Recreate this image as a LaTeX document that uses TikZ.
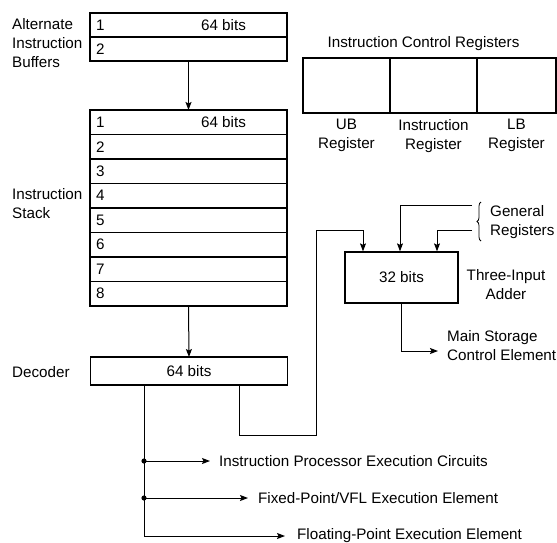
\documentclass[tikz,border=0pt]{standalone}
\usepackage{fontspec}
\setmainfont{Liberation Sans}
\usetikzlibrary{positioning, arrows.meta, decorations.pathreplacing}

\begin{document}
\begin{tikzpicture}[
            x=1pt, y=-1pt, >={Stealth[length=8pt, width=6pt, inset=1.5pt]},
            font=\fontsize{15.2}{19}\selectfont,
            row/.style={rectangle, draw, line width=1.3pt, minimum width=197pt, minimum height=24.5pt, outer sep=0pt, inner sep=0pt},
            reg/.style={rectangle, draw, line width=1.3pt, minimum height=55pt, outer sep=0pt},
            rownum/.style={anchor=west, inner sep=6pt},
            txt/.style={inner sep=0pt, align=left, anchor=west},
            wire/.style={line width=1pt}
        ]
        \useasboundingbox (0,0) rectangle (557,542);

        % Alternate buffers
        \node[row, minimum height=24pt] (buf1) at (188.5,25) {};
        \node[row, minimum height=24pt, below=0pt of buf1] (buf2) {};
        \node[rownum] at (buf1.west) {1};
        \node[rownum] at (buf2.west) {2};
        \node at ([xshift=35pt]buf1.center) {64 bits};
        \node[txt] (buflbl) at (12,43) {Alternate\\Instruction\\Buffers};

        % Stack
        \node[row] (stk1) at (188.5,122.25) {};
        \foreach \i [count=\j from 2] in {1,...,7}
            \node[row, below=0pt of stk\i] (stk\j) {};
        \foreach \i in {1,...,8}
            \node[rownum] at (stk\i.west) {\i};
        \node at ([xshift=35pt]stk1.center) {64 bits};
        \node[txt] (stklbl) at (12,203.5) {Instruction\\Stack};
        \draw[->, wire] (buf2.south) -- (stk1.north);

        % Decoder
        \node[row, minimum height=28pt] (dec) at (189,371) {64 bits};
        \node[txt] (declbl) at (12,372) {Decoder};
        \draw[->, wire] (stk8.south) -- (dec.north);

        % Control registers
        \node[reg, minimum width=87pt] (ub) at (346.5,85.5) {};
        \node[reg, minimum width=87pt, right=0pt of ub] (ir) {};
        \node[reg, minimum width=79pt, right=0pt of ir] (lb) {};
        \node (icrlbl) at (423.5,44) {Instruction Control Registers};
        \node[align=center, inner sep=0pt, below=6pt of ub] (ublbl) {UB\\Register};
        \node[align=center, inner sep=0pt, below=6pt of ir] (irlbl) {Instruction\\Register};
        \node[align=center, inner sep=0pt, below=6pt of lb] (lblbl) {LB\\Register};

        % Adder
        \node[rectangle, draw, line width=1.3pt, minimum width=113pt, minimum height=51pt] (add) at (401.5,277.5) {32 bits};
        \node[align=center] (addlbl) at (506,285) {Three-Input\\Adder};
        \coordinate (gr1) at (472,205);
        \coordinate (gr2) at (472,230);
        \draw[decorate, decoration={brace, amplitude=4pt}, line width=0.8pt] (481,241) -- (481,202);
        \node[txt] (grlbl) at (490,222.5) {General\\Registers};
        \draw[->, wire] (gr1) -| ([xshift=-1.5pt]add.north);
        \draw[->, wire] (gr2) -| ([xshift=35.5pt]add.north);
        \draw[->, wire] ([xshift=50pt]dec.south) |- ++(77,50) -- ++(0,-205) -| ([xshift=-38.5pt]add.north);

        % Main storage
        \node[txt] (msclbl) at (447,346) {Main Storage\\Control Element};
        \draw[->, wire] (add.south) |- ([xshift=-9pt, yshift=-5pt]msclbl.west);

        % Execution elements
        \node[txt] (ipelbl) at (219,461) {Instruction Processor Execution Circuits};
        \node[txt] (fxelbl) at (258,498) {Fixed-Point/VFL Execution Element};
        \node[txt] (fpelbl) at (297,536) {Floating-Point Execution Element};
        \coordinate (br1) at (144,461);
        \coordinate (br2) at (144,498);
        \draw[->, wire] ([xshift=-45pt]dec.south) |- ([xshift=-12pt]fpelbl.west);
        \draw[->, wire] (br1) -- ([xshift=-9pt]ipelbl.west);
        \draw[->, wire] (br2) -- ([xshift=-10pt]fxelbl.west);
        \fill (br1) circle (2.6pt);
        \fill (br2) circle (2.6pt);

    \end{tikzpicture}
\end{document}
